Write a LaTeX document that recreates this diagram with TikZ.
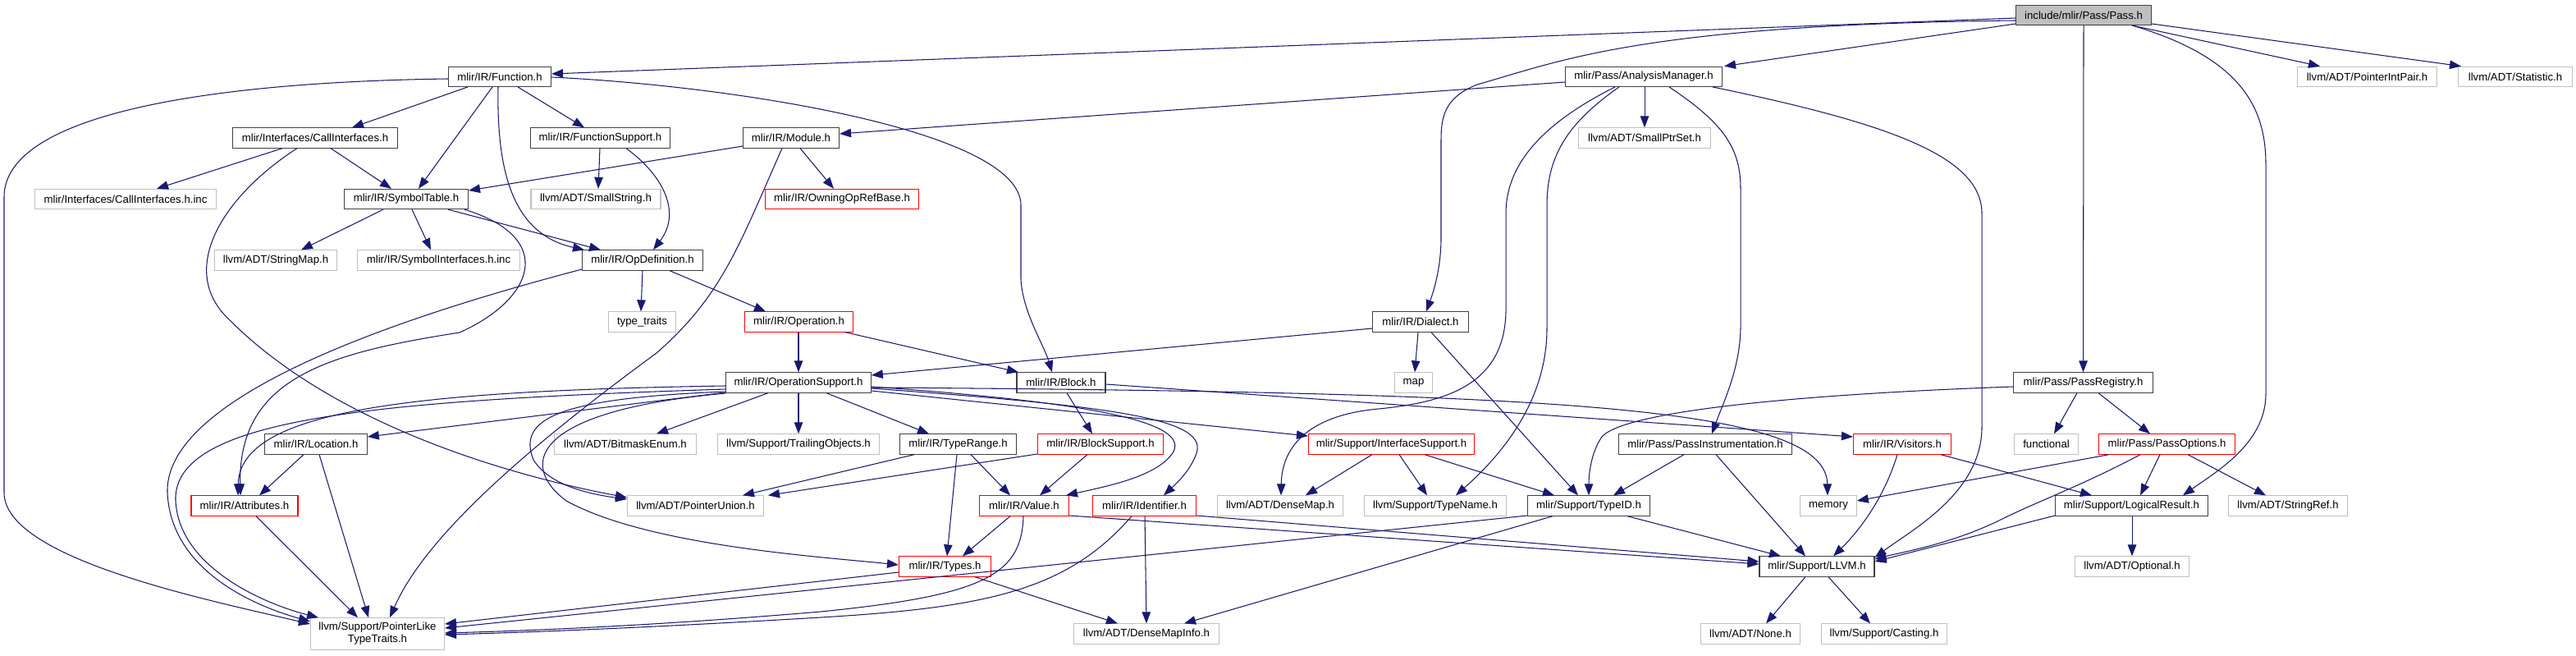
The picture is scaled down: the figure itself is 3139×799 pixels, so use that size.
\documentclass[tikz,border=0pt]{standalone}
\usepackage{fontspec}
\newfontfamily\nodefont{Liberation Sans}
\usetikzlibrary{arrows.meta}
\definecolor{mblue}{HTML}{191970}
\definecolor{lgray}{HTML}{BFBFBF}
\definecolor{dbox}{HTML}{404040}
\begin{document}
\begin{tikzpicture}[x=1pt,y=-1pt,
  box/.style={draw=dbox, line width=1.1pt, fill=white, minimum height=24.2pt, inner sep=0pt,
    font=\nodefont\fontsize{13.2}{15}\selectfont, text=black},
  gbox/.style={box, draw=lgray},
  rbox/.style={box, draw=red},
  ed/.style={draw=mblue, line width=1.05pt, -{Triangle[length=14pt,width=10.5pt]}}]
\fill[white] (0,0) rectangle (3139,799);
\useasboundingbox (0,0) rectangle (3139,799);
% nodes
\node[box, fill=lgray, minimum width=165pt] (pass) at (2539,18.3) {include/mlir/Pass/Pass.h};
\node[box, minimum width=125pt] (func) at (609,93.3) {mlir/IR/Function.h};
\node[box, minimum width=191pt] (am) at (2003,93.3) {mlir/Pass/AnalysisManager.h};
\node[gbox, minimum width=170pt] (pip) at (2884.5,93.3) {llvm/ADT/PointerIntPair.h};
\node[gbox, minimum width=139pt] (stat) at (3065,93.3) {llvm/ADT/Statistic.h};
\node[box, minimum width=201pt] (ci) at (384,168) {mlir/Interfaces/CallInterfaces.h};
\node[box, minimum width=170pt] (fs) at (731.5,168) {mlir/IR/FunctionSupport.h};
\node[box, minimum width=117pt] (mod) at (964,168) {mlir/IR/Module.h};
\node[gbox, minimum width=161pt] (sps) at (2004,168) {llvm/ADT/SmallPtrSet.h};
\node[gbox, minimum width=221pt] (ciinc) at (153,242.5) {mlir/Interfaces/CallInterfaces.h.inc};
\node[box, minimum width=151pt] (st) at (495,242.5) {mlir/IR/SymbolTable.h};
\node[gbox, minimum width=158pt] (ss) at (726,242.5) {llvm/ADT/SmallString.h};
\node[rbox, minimum width=187pt] (oorb) at (1026,242.5) {mlir/IR/OwningOpRefBase.h};
\node[gbox, minimum width=149pt] (smap) at (336,317) {llvm/ADT/StringMap.h};
\node[gbox, minimum width=198pt] (siinc) at (534.5,317) {mlir/IR/SymbolInterfaces.h.inc};
\node[box, minimum width=147pt] (opdef) at (783,317) {mlir/IR/OpDefinition.h};
\node[gbox, minimum width=82pt] (tt) at (782.5,392) {type\_traits};
\node[rbox, minimum width=132pt] (op) at (973.5,392) {mlir/IR/Operation.h};
\node[box, minimum width=117pt] (dia) at (1731,392) {mlir/IR/Dialect.h};
\node[box, minimum width=176.5pt] (os) at (973,466) {mlir/IR/OperationSupport.h};
\node[box, minimum width=108pt] (blk) at (1293,466) {mlir/IR/Block.h};
\node[gbox, minimum width=46pt] (map) at (1722.5,466) {map};
\node[box, minimum width=170pt] (pr) at (2538.5,466) {mlir/Pass/PassRegistry.h};
\node[box, minimum width=124.5pt] (loc) at (385,541) {mlir/IR/Location.h};
\node[gbox, minimum width=173pt] (bme) at (762,541) {llvm/ADT/BitmaskEnum.h};
\node[gbox, minimum width=197pt] (trobj) at (973,541) {llvm/Support/TrailingObjects.h};
\node[box, minimum width=142pt] (tr) at (1167.5,541) {mlir/IR/TypeRange.h};
\node[rbox, minimum width=153.5pt] (bs) at (1341,541) {mlir/IR/BlockSupport.h};
\node[rbox, minimum width=202pt] (is) at (1695.5,541) {mlir/Support/InterfaceSupport.h};
\node[box, minimum width=211pt] (pi) at (2078,541) {mlir/Pass/PassInstrumentation.h};
\node[rbox, minimum width=119pt] (vis) at (2318,541) {mlir/IR/Visitors.h};
\node[gbox, minimum width=78pt] (fun) at (2493.5,541) {functional};
\node[rbox, minimum width=166pt] (po) at (2640.5,541) {mlir/Pass/PassOptions.h};
\node[rbox, minimum width=130pt] (attr) at (298,616) {mlir/IR/Attributes.h};
\node[gbox, minimum width=166pt] (pu) at (847.5,616) {llvm/ADT/PointerUnion.h};
\node[rbox, minimum width=109pt] (val) at (1248,616) {mlir/IR/Value.h};
\node[rbox, minimum width=126pt] (ident) at (1394.5,616) {mlir/IR/Identifier.h};
\node[gbox, minimum width=153pt] (dm) at (1560,616) {llvm/ADT/DenseMap.h};
\node[gbox, minimum width=173pt] (tn) at (1749,616) {llvm/Support/TypeName.h};
\node[box, minimum width=149.5pt] (tid) at (1936,616) {mlir/Support/TypeID.h};
\node[gbox, minimum width=68.5pt] (mem) at (2228,616) {memory};
\node[box, minimum width=186pt] (lr) at (2597.5,616) {mlir/Support/LogicalResult.h};
\node[gbox, minimum width=145pt] (sref) at (2788,616) {llvm/ADT/StringRef.h};
\node[rbox, minimum width=112pt] (types) at (1151.5,690) {mlir/IR/Types.h};
\node[box, minimum width=140pt] (llvm) at (2214,690) {mlir/Support/LLVM.h};
\node[gbox, minimum width=139pt] (opt) at (2598,690) {llvm/ADT/Optional.h};
\node[gbox, minimum width=163pt, minimum height=38.5pt, align=center] (pltt) at (460,772) {llvm/Support/PointerLike\\TypeTraits.h};
\node[gbox, minimum width=176.5pt] (dmi) at (1397,772) {llvm/ADT/DenseMapInfo.h};
\node[gbox, minimum width=121pt] (none) at (2133,772) {llvm/ADT/None.h};
\node[gbox, minimum width=153pt] (cast) at (2296,772) {llvm/Support/Casting.h};
% edges from Pass.h
\draw[ed] (pass.west |- 0,22) -- (func.east |- 0,90);
\draw[ed] (pass.west |- 0,29) -- (am.north -| 2101,0);
\draw[ed] (pass.west |- 0,25) .. controls (2000,30) and (1900,75) .. (1800,103) .. controls (1762,118) and (1756,140) .. (1756,170) -- (1756,290) .. controls (1756,330) and (1745,360) .. (dia.north -| 1738,0);
\draw[ed] (pass.south) -- (pr.north);
\draw[ed] (pass.south -| 2598,0) .. controls (2730,70) and (2761,130) .. (2761,200) -- (2761,480) .. controls (2761,540) and (2700,575) .. (lr.north -| 2660,0);
\draw[ed] (pass.south -| 2598,0) -- (pip.north -| 2827,0);
\draw[ed] (pass.east |- 0,29) -- (stat.north -| 2999,0);
% Function.h
\draw[ed] (func.south -| 570,0) -- (ci.north -| 429,0);
\draw[ed] (func.south -| 600,0) -- (st.north -| 510,0);
\draw[ed] (func.south -| 631,0) -- (fs.north -| 712,0);
\draw[ed] (func.south -| 607,0) .. controls (605,210) and (625,285) .. (opdef.north -| 712,0);
\draw[ed] (func.west |- 0,96) .. controls (250,100) and (5,140) .. (5,240) -- (5,600) .. controls (5,680) and (250,730) .. (pltt.west |- 0,760);
\draw[ed] (func.east |- 0,94) .. controls (900,105) and (1244,160) .. (1244,250) -- (1244,340) .. controls (1246,380) and (1272,420) .. (blk.north -| 1282,0);
% CallInterfaces.h
\draw[ed] (ci.south -| 344,0) -- (ciinc.north -| 191,0);
\draw[ed] (ci.south -| 403,0) -- (st.north -| 477,0);
\draw[ed] (ci.south -| 362,0) .. controls (270,240) and (215,330) .. (280,390) .. controls (400,510) and (600,575) .. (pu.west |- 0,606);
% FunctionSupport.h
\draw[ed] (fs.south -| 731,0) -- (ss.north -| 729,0);
\draw[ed] (fs.south -| 763,0) .. controls (810,215) and (830,260) .. (opdef.north -| 796,0);
% Module.h
\draw[ed] (mod.west |- 0,178) -- (st.east |- 0,232);
\draw[ed] (mod.south -| 975,0) -- (oorb.north -| 1016,0);
\draw[ed] (mod.south -| 953,0) .. controls (900,300) and (880,360) .. (800,430) .. controls (650,540) and (520,650) .. (pltt.north -| 475,0);
% AnalysisManager.h
\draw[ed] (am.west |- 0,100) -- (mod.east |- 0,163);
\draw[ed] (am.south -| 2004,0) -- (sps.north -| 2004,0);
\draw[ed] (am.south -| 2087,0) .. controls (2300,150) and (2415,190) .. (2415,260) -- (2415,520) .. controls (2415,600) and (2330,645) .. (llvm.east |- 0,679);
\draw[ed] (am.south -| 2034,0) .. controls (2100,150) and (2121,180) .. (2121,230) -- (2121,400) .. controls (2120,450) and (2100,490) .. (pi.north -| 2086,0);
\draw[ed] (am.south -| 1968,0) .. controls (1880,150) and (1835,200) .. (1835,260) -- (1835,380) .. controls (1833,470) and (1760,490) .. (1680,498) .. controls (1600,505) and (1562,540) .. (dm.north -| 1561,0);
\draw[ed] (am.south -| 1973,0) .. controls (1910,150) and (1885,190) .. (1885,250) -- (1885,400) .. controls (1885,480) and (1840,545) .. (tn.north -| 1774,0);
% SymbolTable.h
\draw[ed] (st.south -| 467,0) -- (smap.north -| 367,0);
\draw[ed] (st.south -| 502,0) -- (siinc.north -| 525,0);
\draw[ed] (st.south -| 546,0) -- (opdef.north -| 732,0);
\draw[ed] (st.south -| 566,0) .. controls (680,290) and (650,365) .. (560,405) .. controls (400,430) and (290,460) .. (attr.north -| 293,0);
% OpDefinition.h
\draw[ed] (opdef.south -| 783,0) -- (tt.north -| 781,0);
\draw[ed] (opdef.south -| 816,0) -- (op.north -| 933,0);
\draw[ed] (opdef.west |- 0,328) .. controls (550,370) and (200,470) .. (204,600) .. controls (208,690) and (300,735) .. (pltt.west |- 0,757);
% Operation.h
\draw[ed] (op.south -| 973,0) -- (os.north -| 973,0);
\draw[ed] (op.south -| 1030,0) -- (blk.north -| 1241,0);
% Dialect.h
\draw[ed] (dia.south -| 1728,0) -- (map.north -| 1724,0);
\draw[ed] (dia.west |- 0,400) -- (os.east |- 0,457);
\draw[ed] (dia.south -| 1744,0) -- (tid.north -| 1923,0);
% Block.h
\draw[ed] (blk.south -| 1300,0) -- (bs.north -| 1331,0);
\draw[ed] (blk.east |- 0,468) -- (vis.west |- 0,532);
% OperationSupport.h
\draw[ed] (os.east |- 0,472) .. controls (1900,478) and (2225,495) .. (mem.north -| 2227,0);
\draw[ed] (os.west |- 0,478) -- (loc.east |- 0,532);
\draw[ed] (os.south -| 936,0) -- (bme.north -| 800,0);
\draw[ed] (os.south -| 973,0) -- (trobj.north -| 973,0);
\draw[ed] (os.south -| 1007,0) -- (tr.north -| 1132,0);
\draw[ed] (os.east |- 0,471) .. controls (1300,488) and (1450,510) .. (1430,550) .. controls (1412,580) and (1350,592) .. (val.north -| 1299,0);
\draw[ed] (os.east |- 0,473) .. controls (1360,495) and (1472,510) .. (1458,552) .. controls (1450,575) and (1430,592) .. (ident.north -| 1418,0);
\draw[ed] (os.east |- 0,476) -- (is.west |- 0,531);
\draw[ed] (os.west |- 0,470) .. controls (500,476) and (292,500) .. (attr.north -| 290,0);
\draw[ed] (os.west |- 0,474) .. controls (450,488) and (210,510) .. (214,610) .. controls (218,690) and (320,735) .. (pltt.north -| 388,0);
\draw[ed] (os.west |- 0,477) .. controls (680,485) and (630,510) .. (650,560) .. controls (670,592) and (720,602) .. (pu.west |- 0,608);
\draw[ed] (os.west |- 0,479) .. controls (650,500) and (630,565) .. (690,610) .. controls (790,665) and (1000,678) .. (types.west |- 0,688);
% TypeRange.h
\draw[ed] (tr.south -| 1114,0) -- (pu.north -| 905,0);
\draw[ed] (tr.south -| 1166,0) -- (types.north -| 1154,0);
\draw[ed] (tr.south -| 1183,0) -- (val.north -| 1231,0);
% BlockSupport.h
\draw[ed] (bs.west |- 0,553) -- (pu.north -| 936,0);
\draw[ed] (bs.south -| 1325,0) -- (val.north -| 1267,0);
% Location.h, Attributes.h
\draw[ed] (loc.south -| 370,0) -- (attr.north -| 316,0);
\draw[ed] (loc.south -| 389,0) -- (pltt.north -| 449,0);
\draw[ed] (attr.south -| 312,0) -- (pltt.north -| 436,0);
% Value.h
\draw[ed] (val.south -| 1231,0) -- (types.north -| 1173,0);
\draw[ed] (val.south -| 1247,0) .. controls (1245,700) and (1200,725) .. (1000,745) .. controls (800,762) and (650,768) .. (pltt.east |- 0,771);
\draw[ed] (val.east |- 0,628) -- (llvm.west |- 0,687);
% Identifier.h
\draw[ed] (ident.south -| 1379,0) .. controls (1300,720) and (1200,740) .. (1000,752) .. controls (800,764) and (650,770) .. (pltt.east |- 0,773);
\draw[ed] (ident.south -| 1395,0) -- (dmi.north -| 1397,0);
\draw[ed] (ident.east |- 0,628) -- (llvm.west |- 0,684);
% Types.h
\draw[ed] (types.west |- 0,697) -- (pltt.east |- 0,760);
\draw[ed] (types.south -| 1188,0) -- (dmi.north -| 1362,0);
% TypeID.h
\draw[ed] (tid.west |- 0,628) -- (pltt.east |- 0,765);
\draw[ed] (tid.south -| 1892,0) -- (dmi.north -| 1443,0);
\draw[ed] (tid.south -| 1983,0) -- (llvm.north -| 2170,0);
% InterfaceSupport.h
\draw[ed] (is.south -| 1672,0) -- (dm.north -| 1591,0);
\draw[ed] (is.south -| 1705,0) -- (tn.north -| 1739,0);
\draw[ed] (is.south -| 1736,0) -- (tid.north -| 1894,0);
% PassInstrumentation.h
\draw[ed] (pi.south -| 2052,0) -- (tid.north -| 1966,0);
\draw[ed] (pi.south -| 2091,0) -- (llvm.north -| 2200,0);
% Visitors.h
\draw[ed] (vis.south -| 2312,0) .. controls (2295,610) and (2262,650) .. (llvm.north -| 2234,0);
\draw[ed] (vis.south -| 2365,0) -- (lr.north -| 2549,0);
% PassRegistry.h
\draw[ed] (pr.south -| 2531,0) -- (fun.north -| 2503,0);
\draw[ed] (pr.south -| 2557,0) -- (po.north -| 2620,0);
\draw[ed] (pr.west |- 0,471) .. controls (2200,480) and (1980,500) .. (1952,532) .. controls (1938,552) and (1936,580) .. (tid.north -| 1936,0);
% PassOptions.h
\draw[ed] (po.south -| 2570,0) -- (mem.east |- 0,610);
\draw[ed] (po.south -| 2608,0) .. controls (2540,590) and (2480,612) .. (2440,632) .. controls (2380,662) and (2320,672) .. (llvm.east |- 0,681);
\draw[ed] (po.south -| 2632,0) -- (lr.north -| 2608,0);
\draw[ed] (po.south -| 2666,0) -- (sref.north -| 2761,0);
% LogicalResult.h
\draw[ed] (lr.west |- 0,628) -- (llvm.east |- 0,684);
\draw[ed] (lr.south -| 2598,0) -- (opt.north -| 2598,0);
% LLVM.h
\draw[ed] (llvm.south -| 2200,0) -- (none.north -| 2152,0);
\draw[ed] (llvm.south -| 2228,0) -- (cast.north -| 2279,0);
\end{tikzpicture}
\end{document}
